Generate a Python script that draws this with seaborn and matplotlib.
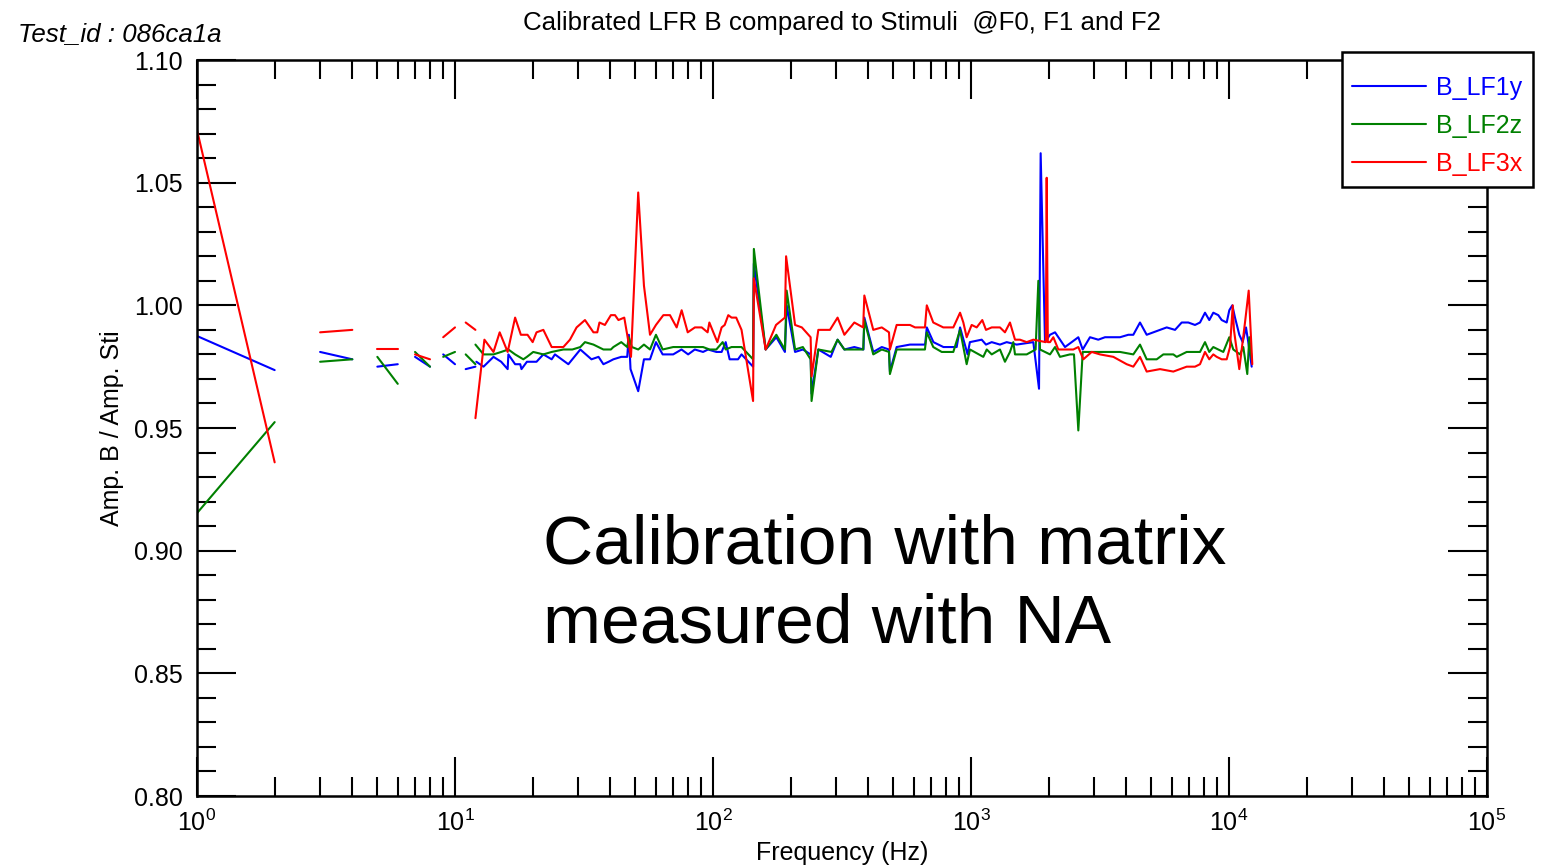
import numpy as np
import pandas as pd
import matplotlib
matplotlib.use("Agg")
import matplotlib.pyplot as plt
from matplotlib.patches import Rectangle
from matplotlib.ticker import LogLocator, NullFormatter, MultipleLocator, FormatStrFormatter
import seaborn as sns

nan = np.nan

# Measured amplitude ratio (calibrated B / stimulus) versus frequency, per component.
# NaN entries separate sweeps that are not joined by a line.
freq_lf1y = [1, 2, nan, 3, 4, nan, 5, 6, nan, 7, 8, nan, 9, 10, nan, 11, 12, nan,
             12.1, 12.9, 14.1, 15.1, 16.0, 16.1, 17.1, 17.9, 18.1, 19.0, 20.7, 22.0, 23.7, 24.4,
             27.5, 30.6, 33.8, 36.0, 37.6, 39.4, 41.1, 44.1, 46.5, 47.2, 47.9, 51.3, 54.0, 57.0,
             60.1, 63.8, 70.1, 75.5, 80.1, 85.0, 91.5, 95.7, 103, 108, 112, 116, 125, 129,
             143, 144, 160, 176, 190, 193, 208, 223, 239, 241, 256, 286, 304, 323, 353, 383,
             386, 418, 451, 481, 485, 515, 580, 664, 674, 715, 782, 880, 907, 970, 990, 1100,
             1143, 1203, 1295, 1375, 1503, 1744, 1835, 1862, 1936, 2024, 2117, 2314, 2456,
             2606, 2710, 2892, 3114, 3307, 3781, 4071, 4257, 4519, 4797, 5403, 5735, 6177,
             6557, 6953, 7383, 7720, 8072, 8386, 8692, 9088, 9369, 9797, 10027, 10300, 10551,
             10963, 11300, 11638, 11878, 12245]
amp_lf1y = [0.9875, 0.9736, nan, 0.981, 0.978, nan, 0.975, 0.976, nan, 0.979, 0.975, nan,
            0.980, 0.976, nan, 0.974, 0.975, nan,
            0.977, 0.975, 0.979, 0.977, 0.974, 0.980, 0.976, 0.976, 0.974, 0.977, 0.977, 0.980,
            0.978, 0.980, 0.976, 0.982, 0.978, 0.979, 0.976, 0.977, 0.978, 0.979, 0.979, 0.988,
            0.974, 0.965, 0.978, 0.978, 0.985, 0.980, 0.980, 0.982, 0.980, 0.982, 0.981, 0.982,
            0.981, 0.981, 0.985, 0.978, 0.978, 0.980, 0.975, 1.017, 0.982, 0.987, 0.981, 1.000,
            0.981, 0.982, 0.980, 0.964, 0.982, 0.979, 0.986, 0.982, 0.983, 0.982, 0.995, 0.981,
            0.983, 0.982, 0.973, 0.983, 0.984, 0.984, 0.991, 0.985, 0.983, 0.983, 0.991, 0.980,
            0.985, 0.986, 0.984, 0.985, 0.984, 0.985, 0.984, 0.985, 0.966, 1.062, 0.985, 0.988,
            0.989, 0.983, 0.985, 0.987, 0.982, 0.987, 0.986, 0.987, 0.987, 0.988, 0.988, 0.993,
            0.988, 0.990, 0.991, 0.990, 0.993, 0.993, 0.992, 0.993, 0.997, 0.994, 0.997, 0.996,
            0.994, 0.993, 0.998, 1.000, 0.995, 0.988, 0.985, 0.991, 0.985, 0.975]

freq_lf2z = [1, 2, nan, 3, 4, nan, 5, 6, nan, 7, 8, nan, 9, 10, nan, 11, 12, nan,
             12.0, 12.9, 14.1, 15.1, 16.1, 17.1, 18.4, 19.0, 20.1, 22.0, 23.7, 26.3, 28.5, 30.6,
             31.9, 34.4, 37.6, 40.2, 41.1, 44.1, 46.5, 47.2, 48.5, 51.3, 54.0, 57.0, 60.1, 63.8,
             70.1, 79.0, 91.5, 97.0, 103, 109, 112, 118, 125, 129, 143, 144, 160, 176, 190, 193,
             208, 223, 239, 241, 256, 288, 304, 323, 355, 382, 386, 418, 451, 481, 485, 515,
             580, 663, 674, 714, 770, 854, 907, 962, 991, 1116, 1151, 1203, 1295, 1354, 1416,
             1459, 1481, 1644, 1780, 1824, 1851, 2024, 2117, 2213, 2419, 2507, 2606, 2710, 2892,
             3307, 3781, 4257, 4519, 4797, 5246, 5565, 6084, 6271, 6855, 7720, 8072, 8386, 8692,
             9088, 9504, 10027, 10392, 11032, 11360, 11772, 11985, 12245]
amp_lf2z = [0.9153, 0.9524, nan, 0.977, 0.978, nan, 0.979, 0.968, nan, 0.981, 0.975, nan,
            0.979, 0.981, nan, 0.980, 0.976, nan,
            0.984, 0.980, 0.980, 0.981, 0.982, 0.980, 0.978, 0.979, 0.981, 0.980, 0.981, 0.982,
            0.982, 0.983, 0.985, 0.984, 0.982, 0.982, 0.983, 0.985, 0.983, 0.987, 0.983, 0.982,
            0.984, 0.982, 0.988, 0.982, 0.983, 0.983, 0.983, 0.982, 0.982, 0.985, 0.982, 0.983,
            0.983, 0.983, 0.978, 1.023, 0.982, 0.988, 0.982, 1.006, 0.982, 0.983, 0.978, 0.961,
            0.982, 0.981, 0.986, 0.982, 0.982, 0.982, 0.994, 0.980, 0.982, 0.981, 0.972, 0.982,
            0.982, 0.982, 0.989, 0.983, 0.981, 0.981, 0.990, 0.976, 0.982, 0.979, 0.982, 0.980,
            0.982, 0.977, 0.981, 0.985, 0.980, 0.980, 0.982, 1.010, 0.982, 0.980, 0.983, 0.979,
            0.980, 0.980, 0.949, 0.981, 0.981, 0.981, 0.981, 0.980, 0.984, 0.978, 0.978, 0.980,
            0.980, 0.979, 0.981, 0.981, 0.985, 0.981, 0.983, 0.982, 0.981, 0.987, 0.982, 0.980,
            0.983, 0.972, 0.987, 0.978]

freq_lf3x = [1, 2, nan, 3, 4, nan, 5, 6, nan, 7, 8, nan, 9, 10, nan, 11, 12, nan,
             12.0, 13.0, 14.1, 14.9, 16.0, 17.1, 18.0, 19.1, 20.0, 20.7, 22.0, 23.7, 25.1, 26.3,
             27.9, 29.6, 31.9, 34.4, 35.6, 36.3, 38.1, 40.2, 41.7, 43.0, 45.3, 48.1, 51.3, 54.0,
             57.0, 60.1, 64.2, 68.1, 72.3, 75.6, 79.8, 85.1, 90.4, 95.3, 96.8, 100.3, 104, 108,
             111, 114.6, 118, 123, 129, 143, 144, 160, 175.5, 190, 192, 208, 221, 239, 241, 256,
             284, 304, 323, 353, 382, 386, 418, 451, 481, 485, 515, 580, 607, 663, 674, 714,
             781, 854, 907, 934, 962, 1006, 1052, 1106, 1143, 1203, 1295, 1354, 1416, 1481,
             1548, 1644, 1744, 1950, 1965, 1985, 2024, 2085, 2180, 2314, 2492, 2606, 2725, 2937,
             3162, 3562, 4013, 4257, 4519, 4797, 5403, 6084, 6855, 7383, 7720, 8072, 8386, 8692,
             8960, 9369, 9797, 10090, 10340, 10450, 10963, 11535, 11922, 12310]
amp_lf3x = [1.0715, 0.936, nan, 0.989, 0.990, nan, 0.982, 0.982, nan, 0.980, 0.978, nan,
            0.987, 0.991, nan, 0.993, 0.990, nan,
            0.954, 0.986, 0.981, 0.989, 0.981, 0.995, 0.988, 0.988, 0.985, 0.989, 0.990, 0.983,
            0.983, 0.983, 0.986, 0.991, 0.994, 0.989, 0.989, 0.993, 0.992, 0.996, 0.996, 0.994,
            0.995, 0.979, 1.046, 1.008, 0.988, 0.992, 0.996, 0.996, 0.991, 0.998, 0.989, 0.991,
            0.991, 0.989, 0.993, 0.989, 0.985, 0.991, 0.992, 0.996, 0.995, 0.995, 0.990, 0.961,
            1.011, 0.982, 0.992, 0.995, 1.020, 0.992, 0.991, 0.987, 0.971, 0.990, 0.990, 0.995,
            0.988, 0.993, 0.991, 1.004, 0.990, 0.991, 0.989, 0.982, 0.992, 0.992, 0.991, 0.991,
            1.000, 0.993, 0.991, 0.991, 0.997, 0.993, 0.987, 0.992, 0.991, 0.994, 0.990, 0.991,
            0.991, 0.989, 0.993, 0.986, 0.986, 0.985, 0.986, 0.985, 1.052, 0.985, 0.985, 0.987,
            0.982, 0.982, 0.982, 0.983, 0.978, 0.981, 0.980, 0.979, 0.976, 0.975, 0.979, 0.973,
            0.974, 0.973, 0.975, 0.975, 0.976, 0.981, 0.978, 0.980, 0.979, 0.978, 0.978, 0.983,
            1.000, 0.990, 0.974, 0.993, 1.006, 0.976]

series_names = ["B_LF1y", "B_LF2z", "B_LF3x"]
series_colors = ["#0000ff", "#008000", "#ff0000"]


def to_frame(freq, amp, name):
    f = np.asarray(freq, dtype=float)
    a = np.asarray(amp, dtype=float)
    seg = np.cumsum(np.isnan(f))
    df = pd.DataFrame({"freq": f, "amp": a, "seg": seg})
    df = df.dropna()
    df["series"] = name
    df["unit"] = name + "_" + df["seg"].astype(str)
    return df


data = pd.concat([
    to_frame(freq_lf1y, amp_lf1y, series_names[0]),
    to_frame(freq_lf2z, amp_lf2z, series_names[1]),
    to_frame(freq_lf3x, amp_lf3x, series_names[2]),
], ignore_index=True)

sns.set_theme(style="ticks")
plt.rcParams["font.family"] = ["Liberation Sans", "DejaVu Sans"]
plt.rcParams["mathtext.fontset"] = "custom"
plt.rcParams["mathtext.rm"] = "Liberation Sans"
plt.rcParams["mathtext.it"] = "Liberation Sans:italic"
plt.rcParams["mathtext.bf"] = "Liberation Sans:bold"

W, H = 1544, 866
fig = plt.figure(figsize=(W / 100, H / 100), dpi=100)
ax = fig.add_axes([197 / W, 1 - 796 / H, (1487 - 197) / W, (796 - 60) / H])

sns.lineplot(data=data, x="freq", y="amp", hue="series", units="unit", estimator=None,
             palette=dict(zip(series_names, series_colors)), hue_order=series_names,
             linewidth=1.5, ax=ax)

ax.set_xscale("log")
ax.set_xlim(1, 1e5)
ax.set_ylim(0.80, 1.10)

ax.xaxis.set_major_locator(LogLocator(base=10, numticks=10))
ax.xaxis.set_minor_locator(LogLocator(base=10, subs=np.arange(2, 10), numticks=20))
ax.xaxis.set_minor_formatter(NullFormatter())
ax.yaxis.set_major_locator(MultipleLocator(0.05))
ax.yaxis.set_minor_locator(MultipleLocator(0.01))
ax.yaxis.set_major_formatter(FormatStrFormatter("%.2f"))

ax.tick_params(which="both", direction="in", top=True, right=True, width=1.5, color="black",
               labelsize=18, labelcolor="black")
ax.tick_params(which="major", length=28, pad=10)
ax.tick_params(which="minor", length=14)
for sp in ax.spines.values():
    sp.set_linewidth(1.8)
    sp.set_color("black")
    sp.set_visible(True)

ax.set_xlabel("Frequency (Hz)", fontsize=18, color="black")
ax.set_ylabel("Amp. B / Amp. Sti", fontsize=18, color="black")
ax.xaxis.set_label_coords(0.5, (796 - 841) / 736)
ax.yaxis.set_label_coords((124 - 197) / 1290, 0.5)

fig.text(842 / W, 1 - 23 / H, "Calibrated LFR B compared to Stimuli  @F0, F1 and F2",
         ha="center", va="center", fontsize=18.6, color="black")
fig.text(18 / W, 1 - 34 / H, "Test_id : 086ca1a", ha="left", va="center",
         fontsize=18.6, style="italic", color="black")

ax.text((543 - 197) / 1290, (796 - 513) / 736, "Calibration with matrix\nmeasured with NA",
        transform=ax.transAxes, ha="left", va="top", fontsize=50, color="black",
        linespacing=1.31)

# Legend box: a square white panel overlapping the upper-right corner of the frame
box = Rectangle((1342 / W, 1 - 187 / H), 191 / W, 135 / H, transform=fig.transFigure,
                facecolor="white", edgecolor="black", linewidth=1.8, clip_on=False,
                zorder=4.5)
ax.add_artist(box)

leg = ax.legend(loc="upper left", bbox_to_anchor=(1352 / W, 1 - 76 / H),
                bbox_transform=fig.transFigure, borderaxespad=0, fontsize=18,
                frameon=False, handlelength=2.95, handletextpad=0.4,
                borderpad=0, labelspacing=0.56, title=None)
leg.set_zorder(5)
for txt, line in zip(leg.get_texts(), leg.get_lines()):
    txt.set_color(line.get_color())
    line.set_linewidth(1.5)

fig.savefig("out.png", dpi=100)
